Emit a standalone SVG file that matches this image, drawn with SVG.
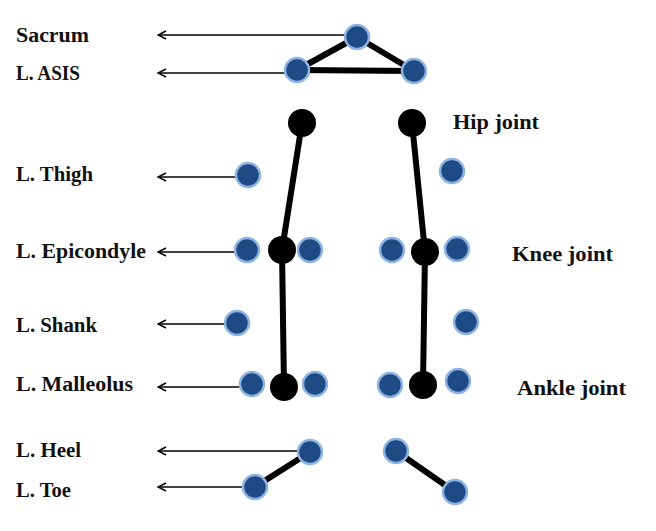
<svg xmlns="http://www.w3.org/2000/svg" width="656" height="531" viewBox="0 0 656 531">
<defs>
<marker id="ah" viewBox="0 0 10 10" refX="1" refY="5" markerWidth="10" markerHeight="10" markerUnits="userSpaceOnUse" orient="auto">
<path d="M9,1 L1,5 L9,9" fill="none" stroke="#000" stroke-width="1.4"/>
</marker>
</defs>
<style>
.lbl{font-family:"Liberation Serif","Times New Roman",serif;font-weight:bold;font-size:20px;fill:#111}
.arr{stroke:#000;stroke-width:1.4;fill:none;marker-start:url(#ah)}
.seg{stroke:#000;stroke-width:6;stroke-linecap:round;fill:none}
.m{fill:#1f4b85;stroke:#8db3e2;stroke-width:2.5}
.j{fill:#000}
</style>
<rect width="656" height="531" fill="#fff"/>
<g id="connectors">
<line class="arr" x1="158" y1="35" x2="346" y2="35"/>
<line class="arr" x1="158" y1="73" x2="286" y2="73"/>
<line class="arr" x1="158" y1="177" x2="236" y2="177"/>
<line class="arr" x1="158" y1="252" x2="236" y2="252"/>
<line class="arr" x1="158" y1="324" x2="226" y2="324"/>
<line class="arr" x1="158" y1="387" x2="241" y2="387"/>
<line class="arr" x1="158" y1="451" x2="299" y2="451"/>
<line class="arr" x1="158" y1="487" x2="244" y2="487"/>
<line class="seg" x1="357" y1="37" x2="297" y2="70"/>
<line class="seg" x1="357" y1="37" x2="414" y2="71"/>
<line class="seg" x1="297" y1="70" x2="414" y2="71"/>
<line class="seg" x1="302" y1="123" x2="282" y2="250"/>
<line class="seg" x1="412" y1="123" x2="425" y2="252"/>
<line class="seg" x1="282" y1="250" x2="284" y2="387"/>
<line class="seg" x1="425" y1="252" x2="423" y2="385"/>
<line class="seg" x1="310" y1="452" x2="255" y2="487"/>
<line class="seg" x1="396" y1="451" x2="455" y2="492"/>
</g>
<g id="sacrum"><circle class="m" cx="357" cy="37" r="12"/></g>
<g id="asis-l"><circle class="m" cx="297" cy="70" r="12"/></g>
<g id="asis-r"><circle class="m" cx="414" cy="71" r="12"/></g>
<g id="hip-l"><circle class="j" cx="302" cy="123" r="14"/></g>
<g id="hip-r"><circle class="j" cx="412" cy="123" r="14"/></g>
<g id="thigh-l"><circle class="m" cx="248" cy="175" r="12"/></g>
<g id="thigh-r"><circle class="m" cx="452" cy="171" r="12"/></g>
<g id="knee-l"><circle class="j" cx="282" cy="250" r="14"/></g>
<g id="knee-r"><circle class="j" cx="425" cy="252" r="14"/></g>
<g id="epi-l-lat"><circle class="m" cx="247" cy="250" r="12"/></g>
<g id="epi-l-med"><circle class="m" cx="310" cy="250" r="12"/></g>
<g id="epi-r-med"><circle class="m" cx="392" cy="250" r="12"/></g>
<g id="epi-r-lat"><circle class="m" cx="457" cy="249" r="12"/></g>
<g id="shank-l"><circle class="m" cx="237" cy="323" r="12"/></g>
<g id="shank-r"><circle class="m" cx="466" cy="322" r="12"/></g>
<g id="ankle-l"><circle class="j" cx="284" cy="387" r="14"/></g>
<g id="ankle-r"><circle class="j" cx="423" cy="385" r="14"/></g>
<g id="mal-l-lat"><circle class="m" cx="252" cy="384" r="12"/></g>
<g id="mal-l-med"><circle class="m" cx="315" cy="384" r="12"/></g>
<g id="mal-r-med"><circle class="m" cx="390" cy="385" r="12"/></g>
<g id="mal-r-lat"><circle class="m" cx="458" cy="381" r="12"/></g>
<g id="heel-l"><circle class="m" cx="310" cy="452" r="12"/></g>
<g id="heel-r"><circle class="m" cx="396" cy="451" r="12"/></g>
<g id="toe-l"><circle class="m" cx="255" cy="487" r="12"/></g>
<g id="toe-r"><circle class="m" cx="455" cy="492" r="12"/></g>
<g id="labels">
<text class="lbl" x="16" y="42" textLength="73" lengthAdjust="spacingAndGlyphs">Sacrum</text>
<text class="lbl" x="16" y="80" textLength="64" lengthAdjust="spacingAndGlyphs">L. ASIS</text>
<text class="lbl" x="453" y="129" textLength="86" lengthAdjust="spacingAndGlyphs">Hip joint</text>
<text class="lbl" x="16" y="181" textLength="77" lengthAdjust="spacingAndGlyphs">L. Thigh</text>
<text class="lbl" x="16" y="258" textLength="130" lengthAdjust="spacingAndGlyphs">L. Epicondyle</text>
<text class="lbl" x="512" y="261" textLength="101" lengthAdjust="spacingAndGlyphs">Knee joint</text>
<text class="lbl" x="16" y="332" textLength="81" lengthAdjust="spacingAndGlyphs">L. Shank</text>
<text class="lbl" x="16" y="391" textLength="117" lengthAdjust="spacingAndGlyphs">L. Malleolus</text>
<text class="lbl" x="517" y="395" textLength="109" lengthAdjust="spacingAndGlyphs">Ankle joint</text>
<text class="lbl" x="16" y="457" textLength="65" lengthAdjust="spacingAndGlyphs">L. Heel</text>
<text class="lbl" x="16" y="497" textLength="55" lengthAdjust="spacingAndGlyphs">L. Toe</text>
</g>
</svg>
